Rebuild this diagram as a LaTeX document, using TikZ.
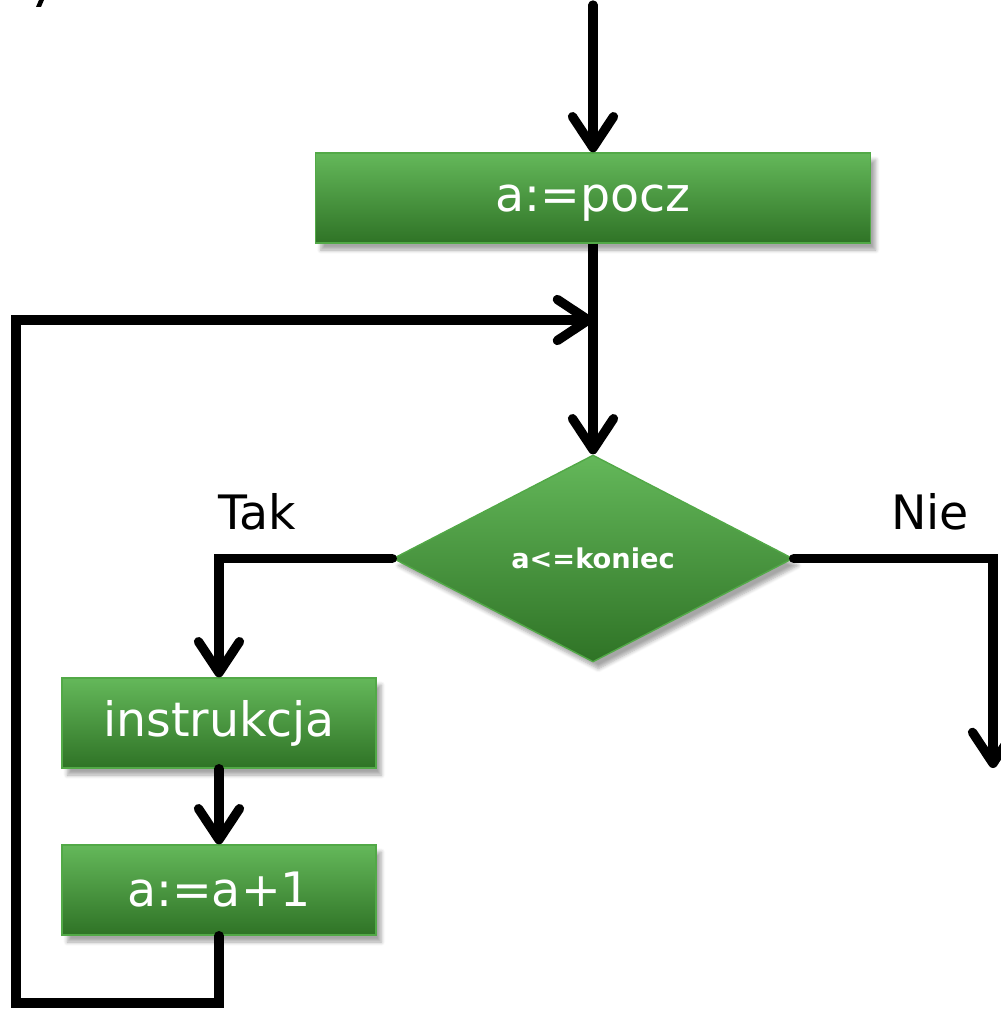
\documentclass[tikz,border=0pt]{standalone}
\usepackage{fontspec}
\setmainfont{DejaVu Sans}
\usetikzlibrary{shapes.geometric,arrows.meta,shadows.blur}
\definecolor{boxtop}{HTML}{64B85A}
\definecolor{boxbot}{HTML}{2F7326}
\definecolor{boxrim}{HTML}{52A947}
\begin{document}
\begin{tikzpicture}[x=0.02cm,y=-0.02cm,
  box/.style={rectangle,draw=boxrim,line width=0.8pt,top color=boxtop,bottom color=boxbot,
    text=white,font=\fontsize{27}{30}\selectfont,minimum height=1.8cm,inner sep=0pt,
    blur shadow={shadow xshift=3pt,shadow yshift=-4pt,shadow blur steps=6,shadow opacity=35}},
  cond/.style={diamond,draw=boxrim,line width=0.8pt,top color=boxtop,bottom color=boxbot,
    text=white,font=\fontsize{15.5}{18}\selectfont\bfseries,minimum width=8cm,minimum height=4.14cm,inner sep=0pt,
    blur shadow={shadow xshift=3pt,shadow yshift=-4pt,shadow blur steps=6,shadow opacity=35}},
  lbl/.style={font=\fontsize{27}{30}\selectfont,inner sep=0pt},
  flow/.style={line width=5.3pt,line cap=round,line join=miter},
  arr/.style={flow,-{Straight Barb[length=0.62cm,width=0.82cm,round]}}]
\useasboundingbox (0,0) rectangle (1000,1013);
\fill (36,7) -- (39,0) -- (44,0) -- (41,7) -- cycle;
% nodes
\node[box,minimum width=11.1cm,text depth=0pt] (pocz) at (593,198) {a:=pocz};
\node[cond] (test) at (593,558.5) {a<=koniec};
\node[box,minimum width=6.28cm] (instr) at (219,723) {instrukcja};
\node[box,minimum width=6.28cm] (inc) at (219,890) {a:=a+1};
\node[lbl] (tak) at (257,512) {Tak};
\node[lbl] (nie) at (930,512) {Nie};
\coordinate (start) at (593,5);
\coordinate (merge) at (593,320);
\coordinate (back) at (16,1003);
\coordinate (exit) at (993,768);
% connectors
\draw[arr] (start) -- (pocz.north);
\draw[flow,line cap=butt] (pocz.south) -- (merge);
\draw[arr] (merge) -- (test.north);
\draw[arr] (inc.south) |- (back) |- (merge);
\draw[arr] (test.west) -| (instr.north);
\draw[arr] (instr.south) -- (inc.north);
\draw[arr] (test.east) -| (exit);
\end{tikzpicture}
\end{document}
